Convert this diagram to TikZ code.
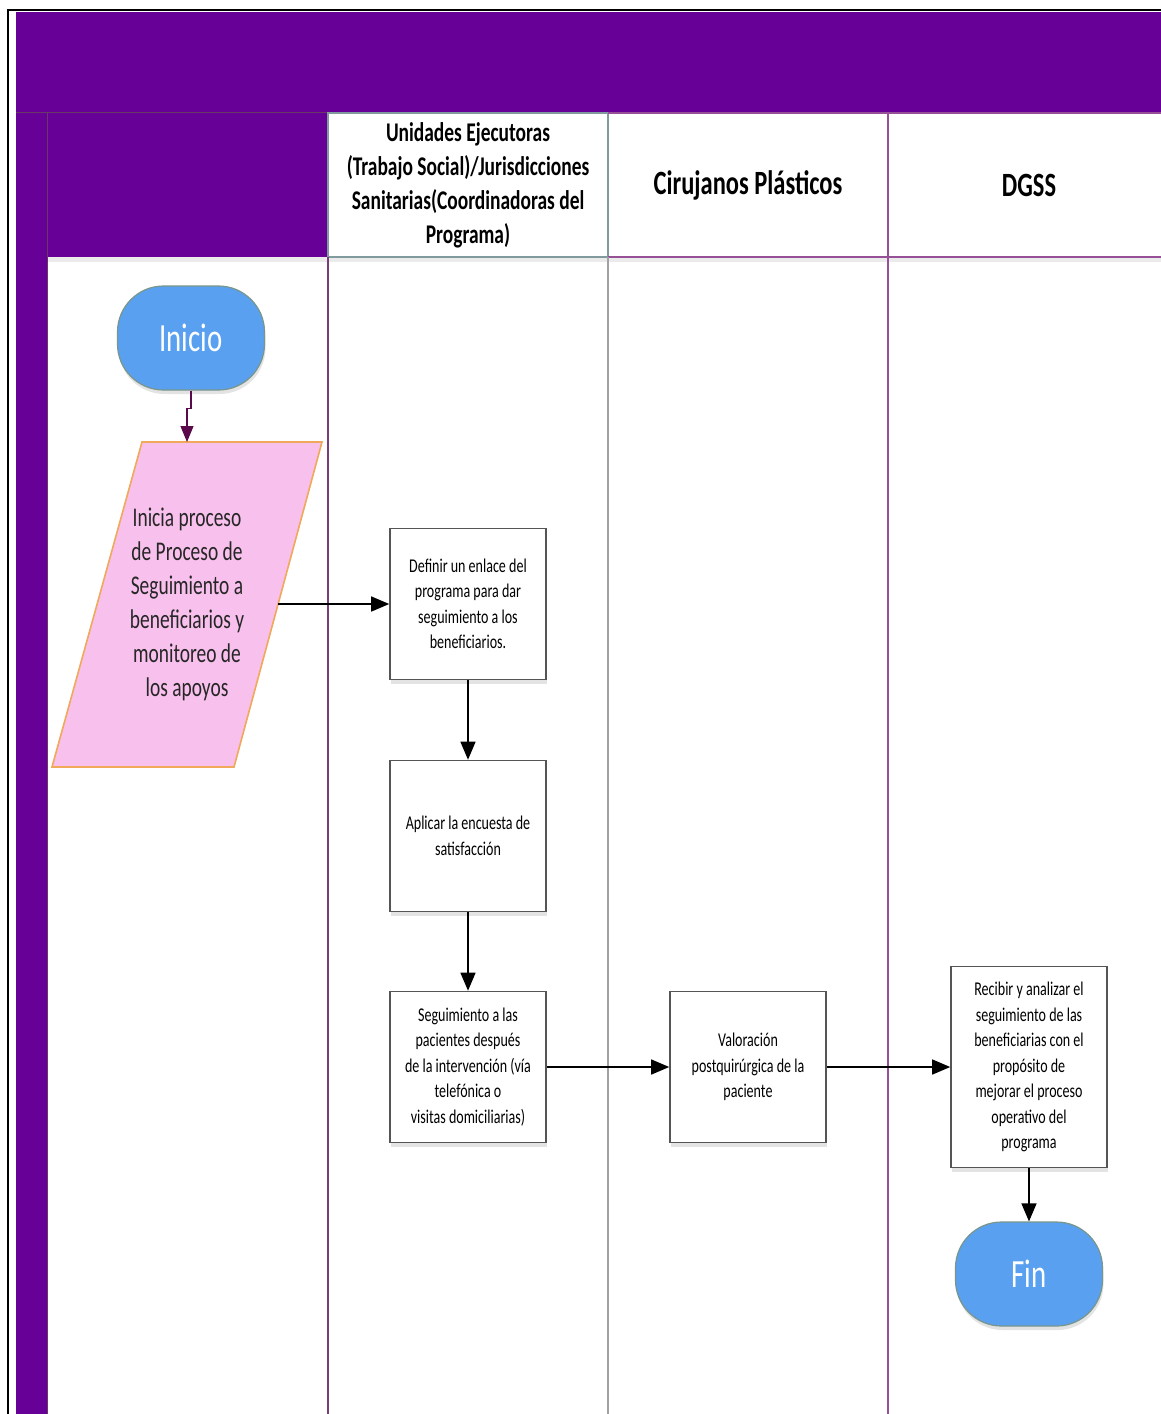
\documentclass[tikz,border=0pt]{standalone}
\usepackage{fontspec}
\setmainfont{Carlito}[FakeStretch=0.72]
\usetikzlibrary{arrows.meta,shadows}
\definecolor{lanepurple}{RGB}{102,0,150}
\definecolor{laneline}{RGB}{150,80,150}
\definecolor{greyline}{RGB}{160,160,165}
\definecolor{termblue}{RGB}{90,160,240}
\definecolor{termedge}{RGB}{120,150,140}
\definecolor{datapink}{RGB}{248,192,236}
\definecolor{dataedge}{RGB}{240,168,90}
\definecolor{startarrow}{RGB}{90,10,75}
\definecolor{boxedge}{RGB}{85,85,85}
\tikzset{
  procbox/.style={draw=boxedge, line width=1.6pt, fill=white, minimum width=156, minimum height=151,
    align=center, font=\fontsize{19.5}{25.5}\selectfont, inner sep=0pt,
    drop shadow={shadow xshift=1pt, shadow yshift=-4pt, opacity=0.18, fill=black!60}},
  termnode/.style={draw=termedge, line width=1.2pt, fill=termblue, rounded corners=46, minimum width=147,
    minimum height=104, text=white, font=\fontsize{40}{44}\selectfont,
    drop shadow={shadow xshift=1pt, shadow yshift=-4pt, opacity=0.18, fill=black!60}},
  lanehead/.style={align=center, font=\bfseries\fontsize{27}{34}\selectfont},
  flow/.style={line width=1.4pt, -{Triangle[width=15pt,length=18pt]}},
}
\begin{document}
\begin{tikzpicture}[x=1pt,y=-1pt]
\useasboundingbox (0,0) rectangle (1161,1414);
\fill[white] (0,0) rectangle (1161,1414);
% outer frame
\draw[black, line width=2pt] (8,1414) -- (8,10) -- (1161,10);
% top purple band and left purple strip
\fill[lanepurple] (16,12) rectangle (1161,112);
\fill[lanepurple] (16,112) rectangle (47,1414);
\fill[lanepurple] (47,112) rectangle (328,257);
\draw[laneline!70!black, line width=0.8pt] (16,112) -- (328,112);
\draw[laneline!70!black, line width=0.8pt] (47,112) -- (47,1414);
% header shadow
\fill[black, opacity=0.08] (47,257) rectangle (1161,262);
% lane header cells
\draw[greyline!80!teal, line width=1.4pt] (328,113) rectangle (608,257);
\draw[laneline, line width=1.4pt] (608,113) -- (1161,113);
\draw[laneline, line width=1.4pt] (608,257) -- (1161,257);
\draw[laneline, line width=1.4pt] (888,113) -- (888,257);
% lane dividers
\draw[laneline!80!black, line width=1.4pt] (328,257) -- (328,1414);
\draw[greyline, line width=1.6pt] (608,257) -- (608,1414);
\draw[laneline, line width=1.6pt] (888,257) -- (888,1414);
% lane titles
\node[lanehead] (h1) at (468,185) {Unidades Ejecutoras\\(Trabajo Social)/Jurisdicciones\\Sanitarias(Coordinadoras del\\Programa)};
\node[lanehead, font=\bfseries\fontsize{34}{38}\selectfont] (h2) at (748,185) {Cirujanos Plásticos};
\node[lanehead, font=\bfseries\fontsize{34}{38}\selectfont] (h3) at (1029,185) {DGSS};
% start terminal
\node[termnode] (inicio) at (191,338) {Inicio};
% input/output parallelogram
\coordinate (ptl) at (142,442);
\coordinate (ptr) at (322,442);
\coordinate (pbr) at (234,767);
\coordinate (pbl) at (52,767);
\filldraw[fill=datapink, draw=dataedge, line width=1.6pt] (ptl) -- (ptr) -- (pbr) -- (pbl) -- cycle;
\node[align=center, font=\fontsize{27}{34}\selectfont, text=black!85] (par) at (187,604)
  {Inicia proceso\\de Proceso de\\Seguimiento a\\beneficiarios y\\monitoreo de\\los apoyos};
\coordinate (partop) at (187,442);
\coordinate (parright) at (278,604);
% process steps
\node[procbox] (enlace) at (468,604) {Definir un enlace del\\programa para dar\\seguimiento a los\\beneficiarios.};
\node[procbox] (encuesta) at (468,836) {Aplicar la encuesta de\\satisfacción};
\node[procbox] (seguim) at (468,1067) {Seguimiento a las\\pacientes después\\de la intervención (vía\\telefónica o\\visitas domiciliarias)};
\node[procbox] (valor) at (748,1067) {Valoración\\postquirúrgica de la\\paciente};
\node[procbox, minimum height=201] (recibir) at (1029,1067) {Recibir y analizar el\\seguimiento de las\\beneficiarias con el\\propósito de\\mejorar el proceso\\operativo del\\programa};
% end terminal
\node[termnode] (fin) at (1029,1274) {Fin};
% connectors
\draw[flow, draw=startarrow, line width=1.2pt, -{Triangle[width=13pt,length=16pt]}]
  (inicio.south) |- ++(0,18) -| (partop);
\draw[flow] (parright) -- (enlace.west);
\draw[flow] (enlace.south) -- (encuesta.north);
\draw[flow] (encuesta.south) -- (seguim.north);
\draw[flow] (seguim.east) -- (valor.west);
\draw[flow] (valor.east) -- (recibir.west);
\draw[flow] (recibir.south) -- (fin.north);
\end{tikzpicture}
\end{document}
